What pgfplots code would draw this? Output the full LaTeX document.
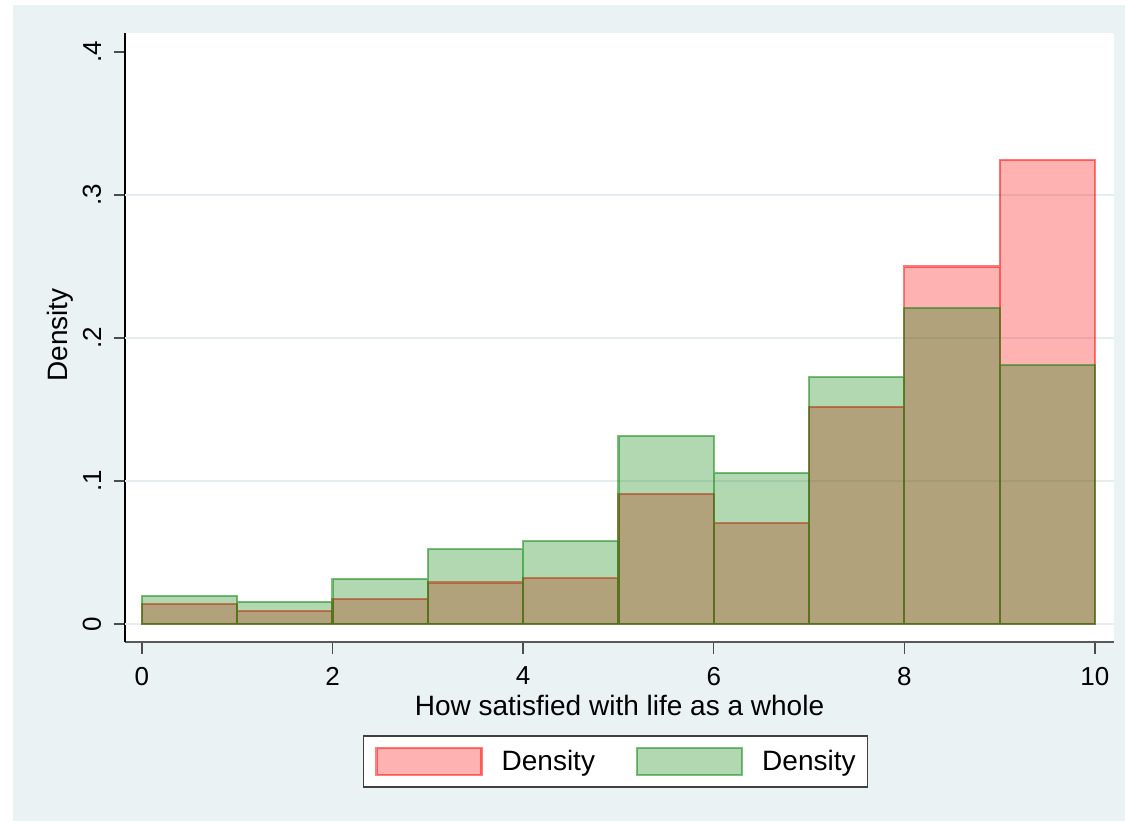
\documentclass[border=0pt]{standalone}
\usepackage{fontspec}
\setmainfont{Liberation Sans}
\usepackage{pgfplots}
\pgfplotsset{compat=1.18}
\definecolor{bgcol}{RGB}{234,242,243}
\definecolor{gridcol}{RGB}{228,238,240}
\definecolor{stgreen}{RGB}{0,128,0}

\begin{document}
\begin{tikzpicture}
% page and outer (graph) region, 1 px = 0.5 pt
\useasboundingbox (-62.5pt,-89.5pt) rectangle (500pt,321pt);
\fill[bgcol] (-56pt,-89.5pt) rectangle (500pt,318.5pt);
\begin{axis}[
    at={(0pt,0pt)}, anchor=south west,
    width=494.5pt, height=304.5pt, scale only axis,
    axis background/.style={fill=white},
    xmin=-0.178, xmax=10.2,
    ymin=-0.0126, ymax=0.4133,
    axis x line*=bottom, axis y line*=left,
    x axis line style={draw=black!65, line width=0.8pt, -},
    y axis line style={draw=black, line width=0.7pt, -},
    xtick={0,2,...,10},
    ytick={0,0.1,0.2,0.3,0.4},
    yticklabels={0,.1,.2,.3,.4},
    extra y ticks={0,0.1,0.2,0.3},
    extra y tick labels={},
    extra y tick style={grid=major, major tick length=0pt},
    grid style={draw=gridcol, line width=0.8pt},
    tick align=outside,
    major tick length=5.75pt,
    major tick style={draw=black!70, line width=0.7pt},
    /pgf/number format/assume math mode=true,
    ticklabel style={font=\fontsize{13}{15}\selectfont},
    yticklabel style={rotate=90, anchor=south, inner sep=0pt, yshift=6pt},
    xticklabel style={inner sep=0pt, yshift=-6.5pt},
    xlabel={How satisfied with life as a whole},
    ylabel={Density},
    label style={font=\fontsize{14}{16}\selectfont},
    xlabel style={at={(axis description cs:0.5,0)}, anchor=center, yshift=-31.5pt},
    ylabel style={at={(axis description cs:0,0.504)}, anchor=center, yshift=32.5pt},
    legend columns=2,
    legend style={
        at={(axis description cs:0.496,0)}, anchor=center, yshift=-59.75pt,
        font=\fontsize{14}{16}\selectfont,
        draw=black!75, line width=0.8pt, fill=white,
        inner xsep=6pt, inner ysep=5pt,
        nodes={inner xsep=0pt, inner ysep=2pt},
        /tikz/every odd column/.append style={column sep=9.5pt},
        /tikz/every even column/.append style={column sep=20.5pt},
    },
    legend image code/.code={\draw[#1] (0pt,-6.75pt) rectangle (52.5pt,6.75pt);},
]
% first histogram (red)
\addplot[ybar interval, fill=red, fill opacity=0.3, draw=red, draw opacity=0.5, line width=1.1pt]
coordinates {
    (0,0.0140) (1,0.0090) (2,0.0175) (3,0.0290) (4,0.0320)
    (5,0.0910) (6,0.0706) (7,0.1520) (8,0.2500) (9,0.3245) (10,0.3245)
};
% second histogram (green)
\addplot[ybar interval, fill=stgreen, fill opacity=0.3, draw=stgreen, draw opacity=0.5, line width=1.1pt]
coordinates {
    (0,0.0196) (1,0.0154) (2,0.0315) (3,0.0524) (4,0.0580)
    (5,0.1315) (6,0.1056) (7,0.1727) (8,0.2210) (9,0.1810) (10,0.1810)
};
\legend{Density, Density}
\end{axis}
\end{tikzpicture}
\end{document}
